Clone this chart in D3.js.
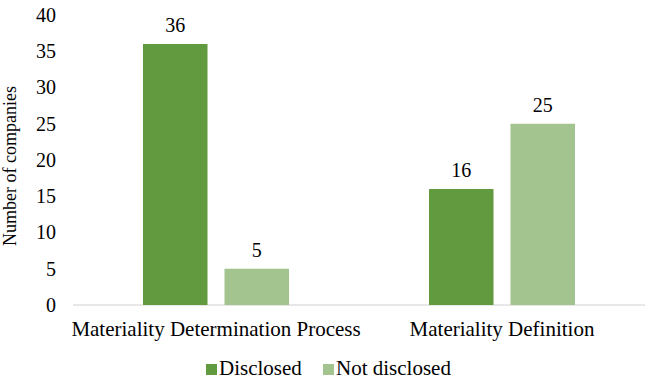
<!DOCTYPE html>
<html><head><meta charset="utf-8">
<script src="https://cdn.jsdelivr.net/npm/d3@7"></script>
<style>body{margin:0;background:#fff}svg{display:block}svg text{font-family:"Liberation Serif","Times New Roman",Times,"DejaVu Serif",serif !important;}</style>
</head><body>
<script>
const categories = ["Materiality Determination Process", "Materiality Definition"];
const seriesNames = ["Disclosed", "Not disclosed"];
const disclosed = [36, 16];
const notDisclosed = [5, 25];
const yTicks = [0, 5, 10, 15, 20, 25, 30, 35, 40];
const colors = ["#629A3F", "#A3C48F"];

const W = 645, H = 380;
const m = {left: 73, right: 0, top: 15, bottom: 75};
const svg = d3.select("body").append("svg").attr("width", W).attr("height", H);

const y = d3.scaleLinear().domain([0, 40]).range([305, 15]);
const x0 = d3.scaleBand().domain(categories).range([m.left, W]).paddingInner(0).paddingOuter(0);
const series = [disclosed, notDisclosed];
const barW = 64.5, gap = 17;

const yAxis = svg.append("g").attr("transform", `translate(${m.left},0)`)
  .call(d3.axisLeft(y).tickValues(yTicks).tickSize(0).tickPadding(17));
yAxis.select(".domain").remove();
yAxis.selectAll("text").style("font-size", "20px").attr("fill", "#000");

svg.append("line").attr("x1", m.left).attr("x2", W).attr("y1", y(0)).attr("y2", y(0))
  .attr("stroke", "#D0D0D0").attr("stroke-width", 1);

series.forEach((vals, si) => {
  const g = svg.append("g");
  categories.forEach((c, ci) => {
    const cx = x0(c) + x0.bandwidth() / 2;
    const groupW = 2 * barW + gap;
    const bx = cx - groupW / 2 + si * (barW + gap);
    g.append("rect").attr("x", bx).attr("y", y(vals[ci])).attr("width", barW)
      .attr("height", y(0) - y(vals[ci])).attr("fill", colors[si]);
    g.append("text").attr("x", bx + barW / 2).attr("y", y(vals[ci]) - 12)
      .attr("text-anchor", "middle").style("font-size", "20px").text(vals[ci]);
  });
});

const xAxis = svg.append("g").attr("transform", `translate(0,${y(0)})`)
  .call(d3.axisBottom(x0).tickSize(0).tickPadding(16));
xAxis.select(".domain").remove();
xAxis.selectAll("text").style("font-size", "21px").attr("fill", "#000");

svg.append("text").attr("transform", "translate(16,166) rotate(-90)")
  .attr("text-anchor", "middle").style("font-size", "18px").text("Number of companies");

const legendX = [206, 323];
seriesNames.forEach((n, i) => {
  svg.append("rect").attr("x", legendX[i]).attr("y", 364).attr("width", 11).attr("height", 11).attr("fill", colors[i]);
  svg.append("text").attr("x", legendX[i] + 13).attr("y", 375).style("font-size", "21px").text(n);
});
</script>
</body></html>
